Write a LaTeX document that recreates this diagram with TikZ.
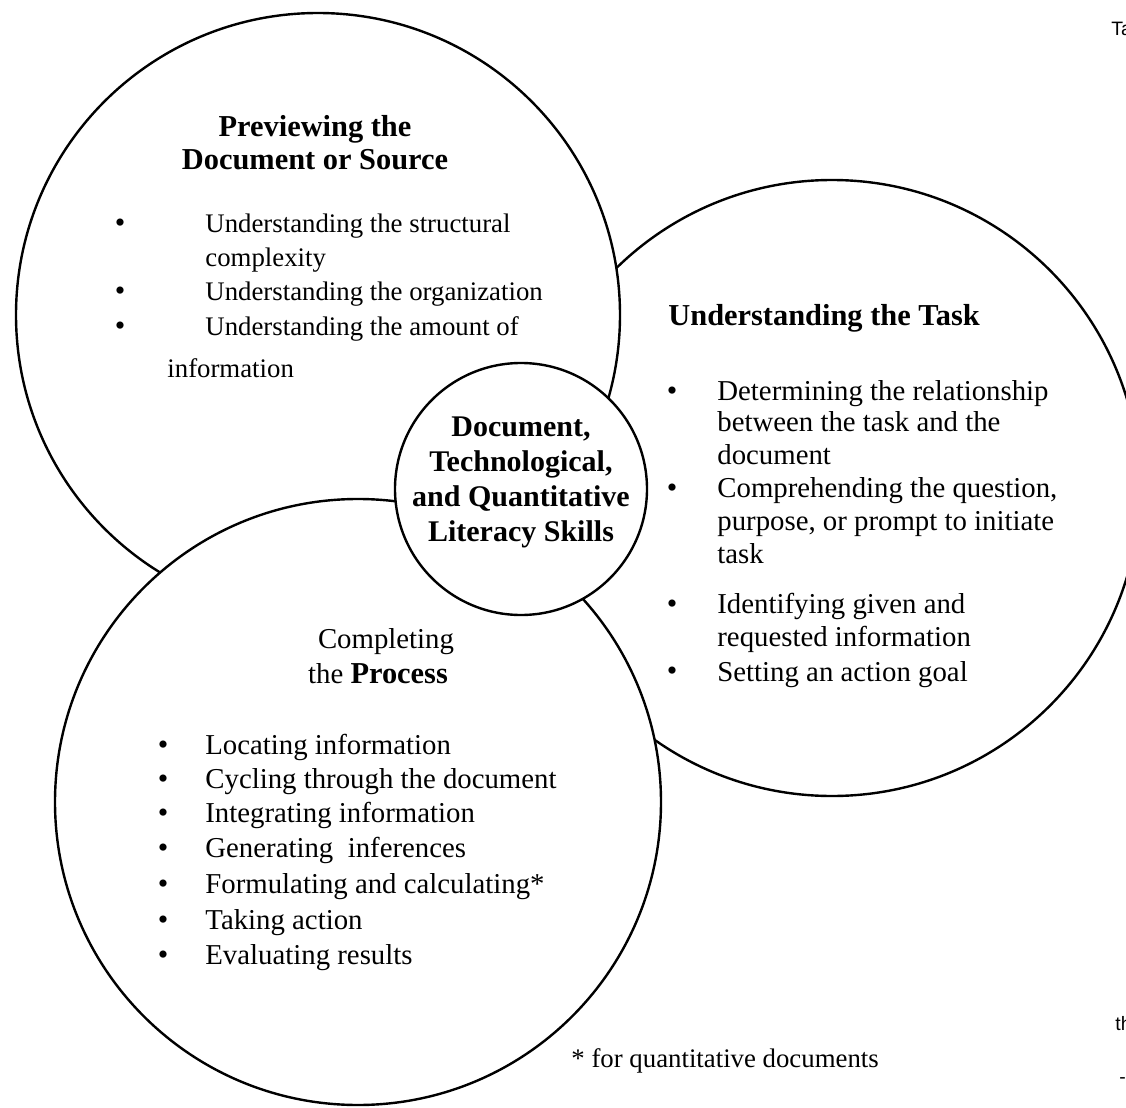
\documentclass[tikz,border=0pt]{standalone}
\usepackage{fontspec}
\setmainfont{Liberation Serif}
\setsansfont{Liberation Sans}
\usetikzlibrary{positioning}
\tikzset{
    ring/.style={circle, draw, line width=1.2pt, fill=white, inner sep=0pt, outer sep=0pt}, % the four circles
    head/.style={font=\fontsize{15.2}{16.5}\selectfont\bfseries, align=center, inner sep=0pt},
    item/.style={font=\fontsize{14.4}{16}\selectfont, anchor=base west, inner sep=0pt},
    small/.style={font=\fontsize{13.4}{16}\selectfont, anchor=base west, inner sep=0pt},
    dot/.style={font=\fontsize{15}{16}\selectfont, anchor=base, inner sep=0pt},
    frag/.style={font=\sffamily\fontsize{9.7}{11}\selectfont, anchor=base west, inner sep=0pt},
}

\begin{document}
\begin{tikzpicture}[x=0.5pt, y=-0.5pt]
    \useasboundingbox (0,0) rectangle (1126,1108);

    % Circles, back to front
    \node[ring, minimum size=308pt] (task) at (832,488) {};
    \node[ring, minimum size=302pt] (preview) at (318,315) {};
    \node[ring, minimum size=303pt] (process) at (358,802) {};
    \node[ring, minimum size=126pt] (core) at (521,489) {};

    % Previewing the Document or Source
    \node[head] (prevhead) at (315,143) {Previewing the\\Document or Source};
    \foreach \y in {232,300,335}
        \node[dot] (pdot\y) at (120,\y) {•};
    \foreach \y/\txt [count=\i] in {232/Understanding the structural, 266/complexity,
                                   300/Understanding the organization, 335/Understanding the amount of}
        \node[small] (pitem\i) at (205,\y) {\txt};
    \node[small] (pitem5) at (167,377) {information};

    % Understanding the Task
    \node[head, anchor=base west] (taskhead) at (668,325) {Understanding the Task};
    \foreach \y in {400,497,613,680}
        \node[dot] (tdot\y) at (672,\y) {•};
    \foreach \y/\txt [count=\i] in {400/Determining the relationship, 431/between the task and the,
                                   464/document, 497/{Comprehending the question,},
                                   530/{purpose, or prompt to initiate}, 563/task,
                                   613/Identifying given and, 646/requested information,
                                   681/Setting an action goal}
        \node[item] (titem\i) at (717,\y) {\txt};

    % Completing the Process
    \node[item, anchor=base] (prochead1) at (386,648) {Completing};
    \node[item, anchor=base] (prochead2) at (378,683) {the \textbf{\fontsize{15.2}{16.5}\selectfont Process}};
    \foreach \y/\txt [count=\i] in {754/Locating information, 788/Cycling through the document,
                                   822/Integrating information, 857/Generating\ \ inferences,
                                   893/Formulating and calculating*, 929/Taking action,
                                   964/Evaluating results}
    {
        \node[dot] (cdot\i) at (163,\y) {•};
        \node[item] (citem\i) at (205,\y) {\txt};
    }

    % Centre
    \node[head, font=\fontsize{15}{17.5}\selectfont\bfseries] (corelbl) at (521,482)
        {Document,\\Technological,\\and Quantitative\\Literacy Skills};

    % Footnote
    \node[small] (note) at (571,1067) {* for quantitative documents};

    % cut-off text at the right edge
    \node[frag] (fragta) at (1111,35) {Ta};
    \node[frag] (fragth) at (1115,1030) {th};
    \node[frag] (fragdash) at (1119,1083) {-};
\end{tikzpicture}
\end{document}
